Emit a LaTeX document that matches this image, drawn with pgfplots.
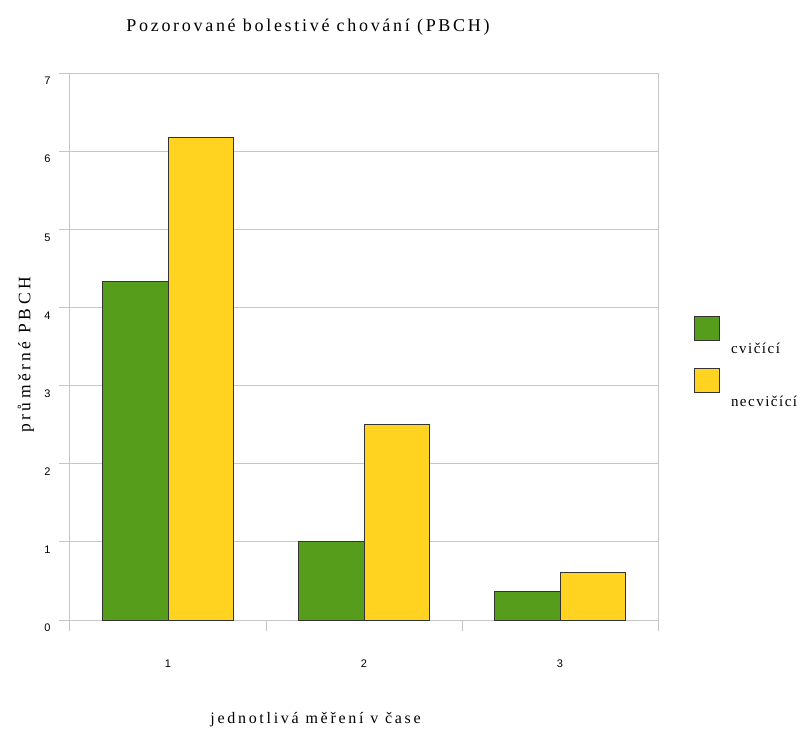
\documentclass[border=0pt]{standalone}
\usepackage{pgfplots}
\pgfplotsset{compat=1.18}
\usepackage{fontspec}
\setmainfont{Liberation Serif}
\newfontfamily\sansf{Liberation Sans}
\newfontfamily\titlef[LetterSpace=15]{Liberation Serif}
\newfontfamily\labf[LetterSpace=10]{Liberation Serif}
\newfontfamily\xlabf[LetterSpace=17]{Liberation Serif}
\newfontfamily\ylabf[LetterSpace=20]{Liberation Serif}
\definecolor{cgreen}{HTML}{579D1C}
\definecolor{cyellow}{HTML}{FFD320}
\definecolor{gridc}{HTML}{C6C6C6}
\begin{document}
\begin{tikzpicture}[x=1pt,y=1pt]
\path[use as bounding box] (-70,-109) rectangle (731,620);
\begin{axis}[
  at={(0,0)}, anchor=south west,
  scale only axis, width=588pt, height=547pt,
  xmin=-0.5, xmax=2.5, ymin=0, ymax=7,
  xtick={-0.5,0.5,1.5,2.5}, x tick label as interval, xticklabels={1,2,3},
  ytick={0,1,2,3,4,5,6,7},
  xtick pos=bottom, ytick pos=left,
  tick align=outside, major tick length=11pt,
  tick style={gridc, line width=1pt},
  axis line style={gridc, line width=1pt},
  ymajorgrids, grid style={gridc, line width=1pt},
  /pgf/number format/assume math mode=true,
  tick label style={font=\sansf\fontsize{11}{12}\selectfont, black},
  yticklabel style={anchor=east, yshift=-8pt, xshift=-5pt},
  xticklabel style={yshift=-25pt},
  legend style={draw=none, fill=none, at={(1.0,0.56)}, anchor=north west, xshift=36pt, yshift=0pt,
    font=\labf\fontsize{15}{17}\selectfont, row sep=11pt, inner xsep=0pt},
  legend cell align=left,
  legend image code/.code={\draw[#1] (0pt,9pt) rectangle (25pt,33pt); \path (34pt,20pt);},
  legend columns=1,
]
\addplot[ybar, bar width=0.3333, bar shift=-0.16667, fill=cgreen, draw=black!80, line width=0.8pt]
  coordinates {(0,4.33) (1,1.0) (2,0.37)};
\addlegendentry{cvičící}
\addplot[ybar, bar width=0.3333, bar shift=0.16667, fill=cyellow, draw=black!80, line width=0.8pt]
  coordinates {(0,6.17) (1,2.5) (2,0.61)};
\addlegendentry{necvičící}
\end{axis}
\node[font=\titlef\fontsize{18}{20}\selectfont] at (238,593) {Pozorované bolestivé chování (PBCH)};
\node[font=\xlabf\fontsize{16}{18}\selectfont] at (245.5,-100) {jednotlivá měření v čase};
\node[font=\ylabf\fontsize{17.5}{19}\selectfont, rotate=90] at (-44,265) {průměrné PBCH};
\end{tikzpicture}
\end{document}
